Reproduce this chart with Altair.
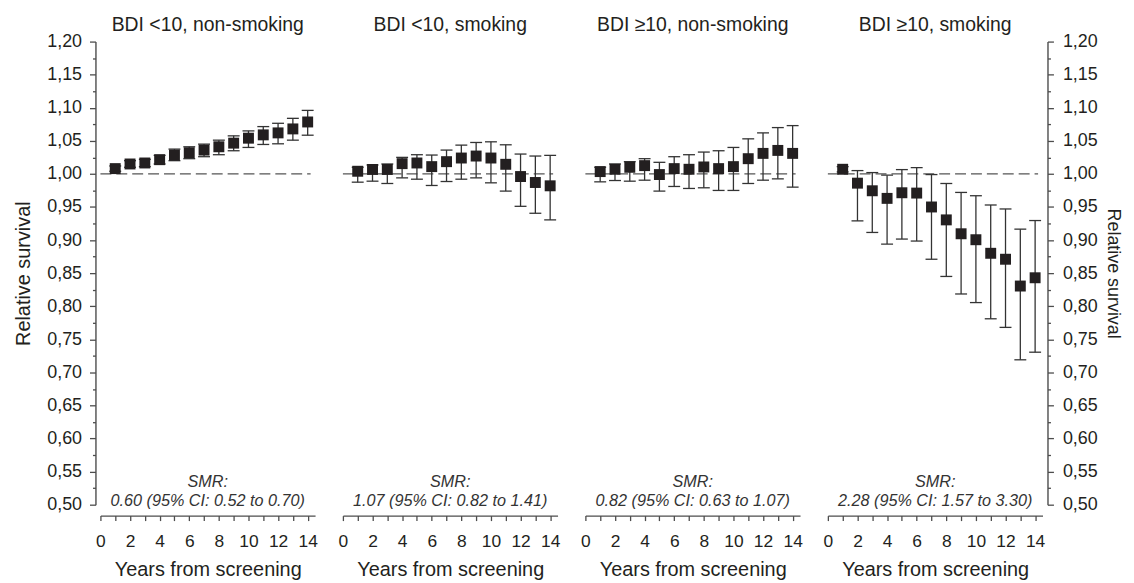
import altair as alt
import pandas as pd

FONT = "Liberation Sans"
INK = "#231f20"
AXIS_INK = "#4d4d4d"

YEARS = list(range(1, 15))
PANELS = ["BDI <10, non-smoking", "BDI <10, smoking", "BDI ≥10, non-smoking", "BDI ≥10, smoking"]

EST_1 = [1.008, 1.015, 1.0165, 1.0215, 1.0285, 1.032, 1.036, 1.041, 1.0465, 1.054, 1.059, 1.062, 1.068, 1.0785]
LO_1 = [1.004, 1.010, 1.011, 1.015, 1.020, 1.023, 1.026, 1.029, 1.035, 1.040, 1.0445, 1.0455, 1.051, 1.0585]
HI_1 = [1.012, 1.020, 1.022, 1.028, 1.0375, 1.041, 1.045, 1.051, 1.0575, 1.065, 1.0715, 1.0765, 1.084, 1.096]

EST_2 = [1.004, 1.0067, 1.0067, 1.0155, 1.0165, 1.011, 1.0185, 1.024, 1.027, 1.024, 1.0145, 0.996, 0.987, 0.982]
LO_2 = [0.9875, 0.989, 0.9855, 0.994, 0.992, 0.9825, 0.9885, 0.992, 0.994, 0.9865, 0.974, 0.951, 0.9405, 0.9305]
HI_2 = [1.010, 1.0135, 1.015, 1.025, 1.029, 1.0285, 1.036, 1.0435, 1.0475, 1.0485, 1.044, 1.030, 1.027, 1.028]

EST_3 = [1.0035, 1.007, 1.010, 1.0125, 0.999, 1.008, 1.007, 1.0105, 1.008, 1.011, 1.023, 1.031, 1.0355, 1.031]
LO_3 = [0.988, 0.990, 0.989, 0.9905, 0.974, 0.981, 0.978, 0.979, 0.975, 0.975, 0.9855, 0.9905, 0.9925, 0.980]
HI_3 = [1.010, 1.015, 1.0185, 1.023, 1.0175, 1.026, 1.029, 1.033, 1.035, 1.040, 1.053, 1.062, 1.070, 1.073]

EST_4 = [1.007, 0.986, 0.9745, 0.963, 0.9715, 0.971, 0.950, 0.9305, 0.9095, 0.9005, 0.880, 0.871, 0.8305, 0.843]
LO_4 = [1.003, 0.929, 0.9115, 0.894, 0.9015, 0.8985, 0.871, 0.845, 0.8185, 0.8055, 0.781, 0.768, 0.719, 0.7305]
HI_4 = [1.011, 1.005, 1.002, 0.998, 1.0065, 1.0095, 0.999, 0.9855, 0.972, 0.967, 0.953, 0.947, 0.9165, 0.9295]

EST = [EST_1, EST_2, EST_3, EST_4]
LO = [LO_1, LO_2, LO_3, LO_4]
HI = [HI_1, HI_2, HI_3, HI_4]

SMR_HEAD = "SMR:"
SMR_TEXT = [
    "0.60 (95% CI: 0.52 to 0.70)",
    "1.07 (95% CI: 0.82 to 1.41)",
    "0.82 (95% CI: 0.63 to 1.07)",
    "2.28 (95% CI: 1.57 to 3.30)",
]

REF_LEVEL = [1.0]
REF_START = [0]
REF_END = [14.2]

X_DOMAIN = [0, 14.5]
Y_DOMAIN = [0.5, 1.2]
X_TICKS = list(range(0, 15))
Y_TICKS = [round(0.5 + 0.025 * k, 3) for k in range(29)]

W = 216
H = 466

x_scale = alt.Scale(domain=X_DOMAIN, nice=False, zero=False)
y_scale = alt.Scale(domain=Y_DOMAIN, nice=False, zero=False)

x_axis = alt.Axis(
    values=X_TICKS,
    labelExpr="datum.value % 2 == 0 ? format(datum.value, 'd') : ''",
    tickSize=5,
    offset=11,
    labelPadding=12,
    labelFontSize=17.5,
    titleFontSize=20,
    titlePadding=10,
    labelFlush=False,
    labelOverlap=False,
    title="Years from screening",
)

major = "abs(round(datum.value * 40)) % 2 == 0"
y_label_expr = major + " ? replace(format(datum.value, '.2f'), '.', ',') : ''"


def y_axis(orient):
    left = orient == "left"
    return alt.Axis(
        orient=orient,
        values=Y_TICKS,
        labelExpr=y_label_expr,
        tickSize={"condition": {"test": major, "value": 6}, "value": 3},
        offset=5,
        labelPadding=8 if left else 9,
        labelFontSize=18,
        titleFontSize=20 if left else 18,
        titlePadding=13 if left else 6,
        labelOverlap=False,
        title="Relative survival",
    )


def panel(i):
    df = pd.DataFrame({"year": YEARS, "est": EST[i], "lo": LO[i], "hi": HI[i]})
    ref = pd.DataFrame({"year": REF_START, "year_end": REF_END, "est": REF_LEVEL})
    if i == 0:
        yax = y_axis("left")
    elif i == 3:
        yax = y_axis("right")
    else:
        yax = None

    def X(field):
        return alt.X(field, type="quantitative", scale=x_scale, axis=x_axis)

    def Y(field):
        return alt.Y(field, type="quantitative", scale=y_scale, axis=yax)

    base = alt.Chart(df)
    refline = alt.Chart(ref).mark_rule(
        color="#555555", strokeWidth=1.4, strokeDash=[11, 5]
    ).encode(x=X("year"), x2="year_end:Q", y=Y("est"))
    bars = base.mark_rule(color="#333333", strokeWidth=1.3).encode(
        x=X("year"), y=Y("lo"), y2="hi:Q"
    )
    cap_lo = base.mark_tick(orient="horizontal", size=12, thickness=1.3, color="#333333", opacity=1).encode(
        x=X("year"), y=Y("lo")
    )
    cap_hi = base.mark_tick(orient="horizontal", size=12, thickness=1.3, color="#333333", opacity=1).encode(
        x=X("year"), y=Y("hi")
    )
    pts = base.mark_square(size=121, color=INK, opacity=1).encode(x=X("year"), y=Y("est"))
    head = alt.Chart(pd.DataFrame({"t": [SMR_HEAD]})).mark_text(
        font=FONT, fontSize=16.3, fontStyle="italic", color="#333333", baseline="alphabetic"
    ).encode(text="t:N", x=alt.value(W / 2), y=alt.value(H - 18))
    smr = alt.Chart(pd.DataFrame({"t": [SMR_TEXT[i]]})).mark_text(
        font=FONT, fontSize=16.3, fontStyle="italic", color="#333333", baseline="alphabetic"
    ).encode(text="t:N", x=alt.value(W / 2), y=alt.value(H + 1))
    title = alt.Chart(pd.DataFrame({"t": [PANELS[i]]})).mark_text(
        font=FONT, fontSize=19.5, color=INK, baseline="alphabetic"
    ).encode(text="t:N", x=alt.value(W / 2), y=alt.value(-11))

    return alt.layer(refline, bars, cap_lo, cap_hi, pts, head, smr, title).properties(
        width=W,
        height=H,
    )


chart = alt.hconcat(*[panel(i) for i in range(4)], spacing=28, bounds="flush").properties(
    padding={"left": 5, "top": 5, "right": 4, "bottom": 0}
).configure_view(
    stroke=None
).configure_axis(
    grid=False,
    labelFont=FONT,
    titleFont=FONT,
    labelColor=INK,
    titleColor=INK,
    titleFontWeight="normal",
    domainColor=AXIS_INK,
    tickColor=AXIS_INK,
    domainWidth=1.4,
    tickWidth=1.3,
)

chart.save("out.html", embed_options={"renderer": "svg", "actions": False})
